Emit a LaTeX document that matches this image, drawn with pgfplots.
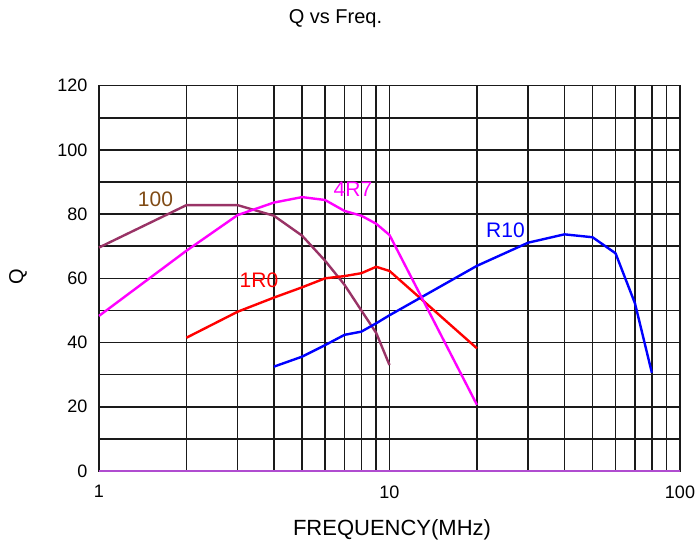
\documentclass[border=0pt]{standalone}
\usepackage{fontspec}
\setmainfont{Liberation Sans}
\usepackage{pgfplots}
\pgfplotsset{compat=1.18}
\definecolor{cbrown}{HTML}{993366}
\definecolor{lbrown}{HTML}{7F4A14}
\definecolor{zpurple}{HTML}{B04CD0}
\definecolor{gridc}{HTML}{1A1A1A}
\definecolor{cmag}{HTML}{FF00FF}
\definecolor{cred}{HTML}{FF0000}
\definecolor{cblue}{HTML}{0000FF}
\begin{document}
\begin{tikzpicture}[x=1pt,y=1pt]
\useasboundingbox (0,0) rectangle (697,545);
\begin{axis}[
  at={(99pt,74pt)}, anchor=south west,
  scale only axis, width=581pt, height=385.3pt,
  xmode=log, xmin=1, xmax=100, ymin=0, ymax=120,
  xtick={1,10,100}, xticklabels={1,10,100},
  ytick={0,20,...,120}, minor y tick num=1,
  xmajorgrids, xminorgrids, ymajorgrids, yminorgrids,
  grid style={gridc, line width=1.5pt},
  minor grid style={gridc, line width=1.5pt},
  axis line style={gridc, line width=1.5pt},
  major tick length=0pt, minor tick length=0pt,
  tick label style={font=\fontsize{18}{20}\selectfont},
  yticklabel style={xshift=-8pt},
  xticklabel style={yshift=-11pt},
  /pgf/number format/assume math mode=true,
  log ticks with fixed point,
  every axis plot/.append style={line width=2.4pt, line join=round, mark=none},
  clip=false,
]
\addplot[zpurple, line width=1.8pt] coordinates {(1,0) (100,0)};
\addplot[cbrown] coordinates {
 (1,69.6) (2,82.8) (3,82.8) (4,79.5) (5,73.3) (6,65.5) (7,58) (8,50) (9,43) (10,33)};
\addplot[cred] coordinates {
 (2,41.5) (3,49.6) (4,54) (5,57.2) (6,60) (7,60.7) (8,61.6) (9,63.6) (10,62.3) (20,38.2)};
\addplot[cblue] coordinates {
 (4,32.5) (5,35.6) (6,39.2) (7,42.4) (8,43.4) (9,46) (10,48.5) (20,63.9) (30,71.1) (40,73.7) (50,72.8) (60,67.8) (70,52.2) (80,30.6)};
\addplot[cmag] coordinates {
 (1,48.3) (2,68.6) (3,79.7) (4,83.6) (5,85.3) (6,84.4) (7,81) (8,79.5) (9,77) (10,73.5) (20,20.6)};
\end{axis}
\node[lbrown, font=\fontsize{21}{24}\selectfont] at (155.5,346) {100};
\node[cmag, font=\fontsize{21}{24}\selectfont] at (353,356) {4R7};
\node[cred, font=\fontsize{21}{24}\selectfont] at (259,265) {1R0};
\node[cblue, font=\fontsize{21}{24}\selectfont] at (505.5,314.5) {R10};
\node[font=\fontsize{20}{22}\selectfont] at (335.5,526) {Q vs Freq.};
\node[font=\fontsize{22}{24}\selectfont] at (392,15) {FREQUENCY(MHz)};
\node[font=\fontsize{20}{22}\selectfont, rotate=90] at (18,268) {Q};
\end{tikzpicture}
\end{document}
